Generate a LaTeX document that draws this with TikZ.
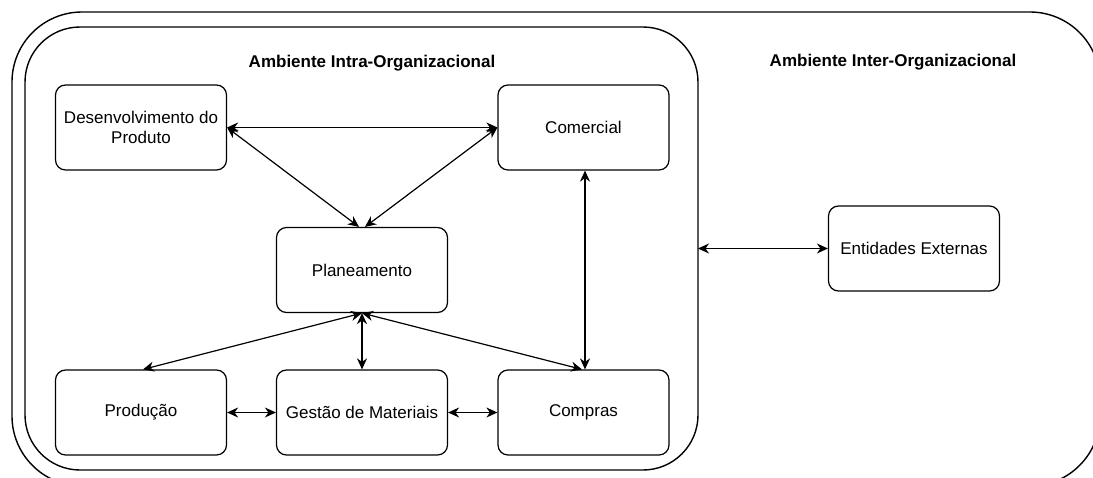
\documentclass[tikz,border=0pt]{standalone}
\usepackage{fontspec}
\setmainfont{Liberation Sans}
\usetikzlibrary{arrows.meta,positioning}
\tikzset{
  box/.style={draw,line width=1.2pt,rounded corners=10pt,minimum width=171pt,minimum height=85pt,align=center,font=\fontsize{17}{20}\selectfont},
  link/.style={{Stealth[length=11pt,width=10pt,inset=3.5pt]}-{Stealth[length=11pt,width=10pt,inset=3.5pt]},line width=1.2pt},
  title/.style={font=\fontsize{17}{20}\selectfont\bfseries}
}

\begin{document}
\begin{tikzpicture}[x=1pt,y=-1pt]
  \useasboundingbox (0,0) rectangle (1093,477);
  % frames
  \begin{scope}
    \clip (0,0) rectangle (1093,477);
    \draw[line width=1.4pt,rounded corners=70pt] (12,12) rectangle (1100,486);
  \end{scope}
  \draw[line width=1.4pt,rounded corners=55pt] (25,27) rectangle (698,470);
  \coordinate (intra) at (698,248.5);

  \node[title] (intratitle) at (372,63) {Ambiente Intra-Organizacional};
  \node[title] (intertitle) at (893,62) {Ambiente Inter-Organizacional};

  % boxes
  \node[box] (desenv) at (141,127.5) {Desenvolvimento do\\Produto};
  \node[box] (comercial) at (583.5,127.5) {Comercial};
  \node[box] (plan) at (362,270) {Planeamento};
  \node[box] (producao) at (141,412.5) {Produção};
  \node[box] (gestao) at (362,412.5) {Gestão de Materiais};
  \node[box] (compras) at (583.5,412.5) {Compras};
  \node[box] (externas) at (914,248.5) {Entidades Externas};

  % links
  \draw[link] (desenv) -- (comercial);
  \draw[link] (desenv.east) -- ([xshift=-3pt]plan.north);
  \draw[link] (comercial.west) -- ([xshift=3pt]plan.north);
  \draw[link] ([xshift=1.5pt]comercial.south) -- ([xshift=1.5pt]compras.north);
  \draw[link] (plan.south) -- ([xshift=2pt]producao.north);
  \draw[link] (plan.south) -- (gestao.north);
  \draw[link] (plan.south) -- ([xshift=-1.5pt]compras.north);
  \draw[link] (producao) -- (gestao);
  \draw[link] (gestao) -- (compras);
  \draw[link] (intra) -- (externas.west);
\end{tikzpicture}
\end{document}
